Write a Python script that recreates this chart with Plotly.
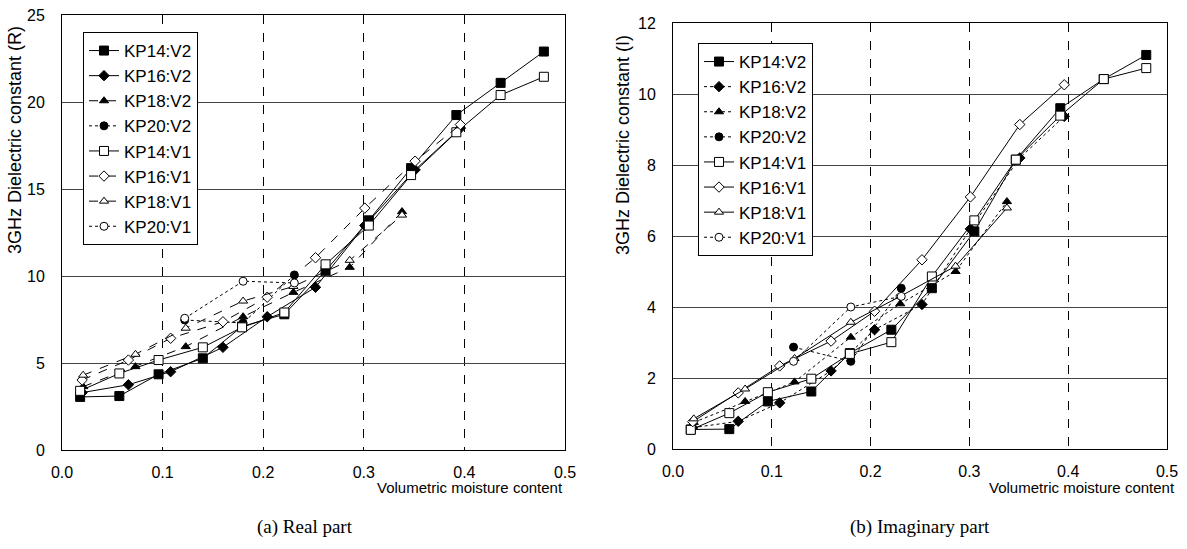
import plotly.graph_objects as go

# ---------------- data ----------------
KP14_x = [0.018, 0.057, 0.096, 0.140, 0.179, 0.221, 0.262, 0.305, 0.347, 0.392, 0.436, 0.479]
KP16_x = [0.020, 0.066, 0.108, 0.160, 0.204, 0.252, 0.301, 0.351, 0.396]
KP18_x = [0.021, 0.073, 0.123, 0.180, 0.230, 0.286, 0.338]
KP20_x = [0.122, 0.180, 0.231]

# real part
KP14_V2_R = [3.05, 3.1, 4.35, 5.27, 7.1, 7.8, 10.3, 13.2, 16.2, 19.25, 21.1, 22.9]
KP16_V2_R = [3.3, 3.75, 4.5, 5.9, 7.66, 9.35, 12.9, 16.1, 18.5]
KP18_V2_R = [3.64, 4.79, 5.94, 7.66, 9.06, 10.5, 13.7]
KP20_V2_R = [7.47, 7.3, 10.06]
KP14_V1_R = [3.4, 4.4, 5.17, 5.9, 7.05, 7.9, 10.67, 12.9, 15.8, 18.26, 20.4, 21.45]
KP16_V1_R = [4.02, 5.17, 6.42, 7.37, 8.78, 11.05, 13.9, 16.6, 18.7]
KP18_V1_R = [4.3, 5.5, 7.0, 8.56, 9.4, 10.9, 13.5]
KP20_V1_R = [7.57, 9.7, 9.6]

# imaginary part
KP14_V2_I = [0.55, 0.56, 1.34, 1.62, 2.7, 3.36, 4.53, 6.13, 8.15, 9.6, 10.42, 11.1]
KP16_V2_I = [0.6, 0.78, 1.3, 2.2, 3.36, 4.07, 6.2, 8.2, 9.37]
KP18_V2_I = [0.75, 1.34, 1.89, 3.15, 4.09, 5.0, 6.97]
KP20_V2_I = [2.87, 2.47, 4.53]
KP14_V1_I = [0.54, 1.01, 1.6, 1.98, 2.68, 3.01, 4.86, 6.44, 8.15, 9.39, 10.42, 10.73]
KP16_V1_I = [0.77, 1.58, 2.34, 3.04, 3.88, 5.33, 7.1, 9.14, 10.26]
KP18_V1_I = [0.85, 1.69, 2.55, 3.57, 4.3, 5.15, 6.79]
KP20_V1_I = [2.47, 4.0, 4.3]

names = ["KP14:V2", "KP16:V2", "KP18:V2", "KP20:V2", "KP14:V1", "KP16:V1", "KP18:V1", "KP20:V1"]
xs = [KP14_x, KP16_x, KP18_x, KP20_x, KP14_x, KP16_x, KP18_x, KP20_x]
real = [KP14_V2_R, KP16_V2_R, KP18_V2_R, KP20_V2_R, KP14_V1_R, KP16_V1_R, KP18_V1_R, KP20_V1_R]
imag = [KP14_V2_I, KP16_V2_I, KP18_V2_I, KP20_V2_I, KP14_V1_I, KP16_V1_I, KP18_V1_I, KP20_V1_I]

symbols = ["square", "diamond", "triangle-up", "circle", "square", "diamond", "triangle-up", "circle"]
fills = ["black"] * 4 + ["white"] * 4
sizes = [9, 8, 8, 8, 9, 8, 8, 8]
dashes_R = ["solid", "solid", "dash", "dot", "solid", "dash", "dash", "dot"]
dashes_I = ["solid", "dot", "dot", "dot", "solid", "solid", "solid", "dot"]

fig = go.Figure()
for i in range(8):
    fig.add_trace(go.Scatter(
        x=xs[i], y=real[i], name=names[i], mode="lines+markers",
        xaxis="x", yaxis="y", legend="legend",
        line=dict(color="black", width=1, dash=dashes_R[i]),
        marker=dict(symbol=symbols[i], size=sizes[i], color=fills[i],
                    line=dict(color="black", width=1))))
for i in range(8):
    fig.add_trace(go.Scatter(
        x=xs[i], y=imag[i], name=names[i], mode="lines+markers",
        xaxis="x2", yaxis="y2", legend="legend2",
        line=dict(color="black", width=1, dash=dashes_I[i]),
        marker=dict(symbol=symbols[i], size=sizes[i], color=fills[i],
                    line=dict(color="black", width=1))))

W, H = 1187, 549
FONT = "Liberation Sans, Arial"
tickfont = dict(family=FONT, size=16, color="black")

def xax(domain, anchor):
    return dict(domain=domain, anchor=anchor, range=[0, 0.5], dtick=0.1, tickformat=".1f",
                showline=True, mirror=True, linecolor="black", linewidth=1,
                showgrid=True, gridcolor="black", gridwidth=1, griddash="dash",
                zeroline=False, ticks="", ticklabelstandoff=8, tickfont=tickfont,
                automargin=False)

def yax(domain, anchor, rng, dt):
    return dict(domain=domain, anchor=anchor, range=rng, dtick=dt,
                showline=True, mirror=True, linecolor="black", linewidth=1,
                showgrid=True, gridcolor="#444444", gridwidth=1,
                zeroline=False, ticks="", ticklabelstandoff=13, tickfont=tickfont,
                automargin=False)

legend_common = dict(bgcolor="white", bordercolor="black", borderwidth=1,
                     font=dict(family=FONT, size=17, color="black"),
                     xanchor="left", yanchor="top", tracegroupgap=0, itemwidth=30)

fig.update_layout(
    width=W, height=H, margin=dict(l=0, r=0, t=0, b=0, autoexpand=False),
    paper_bgcolor="white", plot_bgcolor="white",
    xaxis=xax([62 / W, 565 / W], "y"),
    yaxis=yax([(H - 450) / H, (H - 15) / H], "x", [0, 25], 5),
    xaxis2=xax([673 / W, 1167 / W], "y2"),
    yaxis2=yax([(H - 449) / H, (H - 23) / H], "x2", [0, 12], 2),
    legend=dict(x=83 / W, y=(H - 32) / H, **legend_common),
    legend2=dict(x=698 / W, y=(H - 43) / H, **legend_common),
    annotations=[
        dict(text="Volumetric moisture content", xref="paper", yref="paper",
             x=565 / W, y=(H - 487) / H, xanchor="right", yanchor="middle", showarrow=False,
             font=dict(family=FONT, size=15, color="black")),
        dict(text="Volumetric moisture content", xref="paper", yref="paper",
             x=1177 / W, y=(H - 487) / H, xanchor="right", yanchor="middle", showarrow=False,
             font=dict(family=FONT, size=15, color="black")),
        dict(text="3GHz Dielectric constant (R)", xref="paper", yref="paper",
             x=15 / W, y=(H - 140) / H, xanchor="center", yanchor="middle", showarrow=False,
             textangle=-90, font=dict(family=FONT, size=18, color="black")),
        dict(text="3GHz Dielectric constant (I)", xref="paper", yref="paper",
             x=623 / W, y=(H - 145) / H, xanchor="center", yanchor="middle", showarrow=False,
             textangle=-90, font=dict(family=FONT, size=18, color="black")),
        dict(text="(a) Real part", xref="paper", yref="paper",
             x=305 / W, y=(H - 527) / H, xanchor="center", yanchor="middle", showarrow=False,
             font=dict(family="Liberation Serif, Times New Roman", size=19, color="black")),
        dict(text="(b) Imaginary part", xref="paper", yref="paper",
             x=920 / W, y=(H - 527) / H, xanchor="center", yanchor="middle", showarrow=False,
             font=dict(family="Liberation Serif, Times New Roman", size=19, color="black")),
    ],
)

fig.write_html("out.html")
